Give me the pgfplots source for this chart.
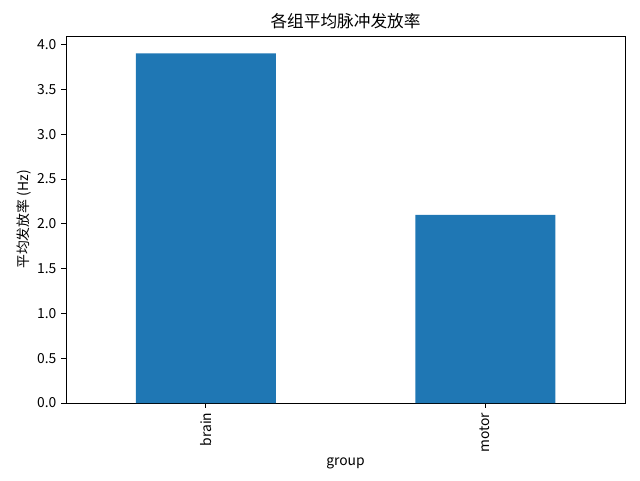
\documentclass[border=0pt]{standalone}
\usepackage{pgfplots}
\pgfplotsset{compat=1.18}
\usepackage{fontspec}
\setmainfont{Noto Sans CJK SC}
\definecolor{mplblue}{HTML}{1F77B4}
\begin{document}
\fontsize{10.4}{12}\selectfont
\begin{tikzpicture}
\path[use as bounding box] (0,0) rectangle (480pt,360pt);
\begin{axis}[
  at={(49.5pt,57.75pt)}, anchor=south west,
  scale only axis, width=419.25pt, height=275.25pt,
  xmin=-0.5, xmax=1.5, ymin=0, ymax=4.095,
  xtick={0,1}, xticklabels={brain,motor},
  x tick label style={rotate=90, anchor=east},
  ytick={0,0.5,...,4.0},
  /pgf/number format/assume math mode=true,
  /pgf/number format/.cd, fixed, fixed zerofill, precision=1, /pgfplots/.cd,
  tick align=outside, major tick length=3.6pt,
  xtick pos=bottom, ytick pos=left,
  axis line style={line width=0.6pt}, tick style={line width=0.6pt, black},
  title={\fontsize{12.5}{14}\selectfont 各组平均脉冲发放率},
  title style={yshift=-4.5pt},
  xlabel={group}, ylabel={平均发放率 (Hz)},
  xlabel style={yshift=3.5pt},
  ylabel style={yshift=-3pt},
  ybar, bar width=105pt,
  enlarge x limits=false,
]
\addplot[fill=mplblue, draw=none] coordinates {(0,3.9) (1,2.1)};
\end{axis}
\end{tikzpicture}
\end{document}
